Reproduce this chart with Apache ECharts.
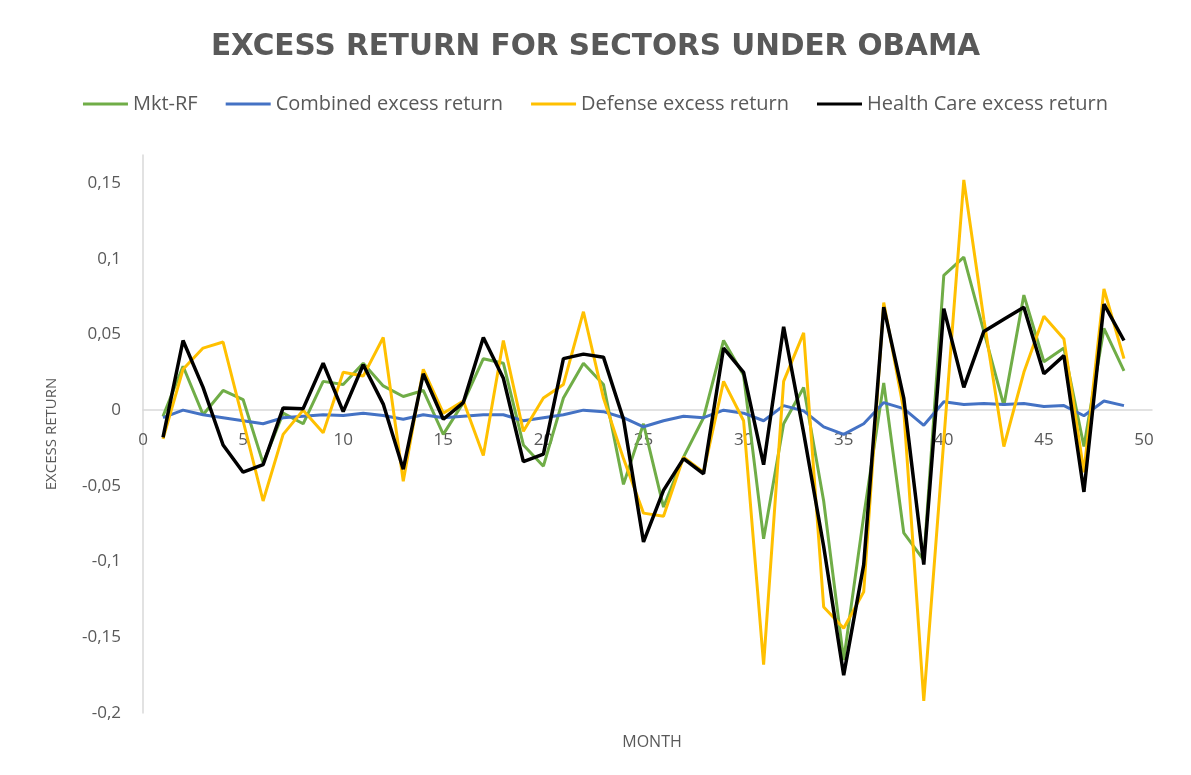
<!DOCTYPE html>
<html lang="en">
<head>
    <meta charset="UTF-8">
    <title>Excess return for sectors under Obama</title>
    <script src="https://cdn.jsdelivr.net/npm/echarts@6/dist/echarts.min.js"></script>
    <style>
        html, body { margin: 0; padding: 0; background: #fff; }
        #chart { width: 1191px; height: 775px; }
    </style>
</head>
<body>
<div id="chart"></div>
<script>
    // months 1..49
    let months = Array.from({length: 49}, (v, i) => i + 1);

    let mktRF = [-0.004, 0.029, -0.003, 0.013, 0.007, -0.035, -0.002, -0.009, 0.019, 0.017,
        0.031, 0.016, 0.009, 0.013, -0.016, 0.005, 0.034, 0.031, -0.023, -0.037,
        0.008, 0.031, 0.017, -0.049, -0.009, -0.064, -0.031, -0.005, 0.046, 0.023,
        -0.085, -0.009, 0.015, -0.06, -0.165, -0.07, 0.018, -0.081, -0.099, 0.089,
        0.101, 0.052, 0.003, 0.076, 0.032, 0.041, -0.024, 0.054, 0.026];

    let combined = [-0.005, 0, -0.003, -0.005, -0.007, -0.009, -0.005, -0.004, -0.003, -0.0035,
        -0.002, -0.0035, -0.006, -0.003, -0.005, -0.004, -0.003, -0.003, -0.007, -0.005,
        -0.003, 0, -0.001, -0.005, -0.011, -0.007, -0.004, -0.005, 0, -0.002,
        -0.007, 0.003, -0.0005, -0.011, -0.016, -0.009, 0.005, 0.001, -0.010, 0.0056,
        0.0037, 0.0044, 0.0037, 0.0044, 0.0024, 0.003, -0.0037, 0.006, 0.003];

    let defense = [-0.019, 0.027, 0.041, 0.045, -0.007, -0.060, -0.016, 0, -0.015, 0.025,
        0.0225, 0.048, -0.047, 0.027, -0.002, 0.006, -0.030, 0.046, -0.014, 0.008,
        0.017, 0.065, 0.008, -0.032, -0.068, -0.070, -0.031, -0.041, 0.019, -0.007,
        -0.168, 0.019, 0.051, -0.130, -0.144, -0.120, 0.071, 0, -0.192, -0.02,
        0.152, 0.06, -0.024, 0.025, 0.062, 0.047, -0.041, 0.080, 0.034];

    let healthCare = [-0.018, 0.046, 0.015, -0.023, -0.041, -0.036, 0.0015, 0.001, 0.031, -0.001,
        0.030, 0.004, -0.039, 0.024, -0.006, 0.005, 0.048, 0.021, -0.034, -0.029,
        0.034, 0.037, 0.035, -0.006, -0.087, -0.053, -0.032, -0.042, 0.041, 0.025,
        -0.036, 0.055, -0.015, -0.09, -0.175, -0.102, 0.068, 0.008, -0.102, 0.067,
        0.015, 0.052, 0.060, 0.068, 0.024, 0.036, -0.054, 0.070, 0.046];

    let seriesNames = ['Mkt-RF', 'Combined excess return', 'Defense excess return', 'Health Care excess return'];
    let seriesColors = ['#70AD47', '#4472C4', '#FFC000', '#000000'];
    let seriesValues = [mktRF, combined, defense, healthCare];

    let grey = '#595959';

    // y range of the plot; the x axis is shifted up to sit on y = 0
    let yMin = -0.2, yMax = 0.1685;
    let gridTop = 155, gridBottom = 62, chartH = 775;
    let plotH = chartH - gridTop - gridBottom;
    let zeroShift = plotH * (0 - yMin) / (yMax - yMin);

    let chart = echarts.init(document.getElementById('chart'));

    let option = {
        animation: false,
        backgroundColor: '#fff',
        title: [{
            text: 'EXCESS RETURN FOR SECTORS UNDER OBAMA',
            left: 'center',
            top: 27,
            textStyle: {
                fontFamily: 'DejaVu Sans',
                fontSize: 29.5,
                fontWeight: 'bold',
                color: grey
            }
        }, {
            text: 'MONTH',
            left: 647,
            textAlign: 'center',
            top: 729,
            textStyle: {
                fontFamily: 'Open Sans',
                fontSize: 16,
                fontWeight: 'normal',
                color: grey
            }
        }],
        legend: {
            top: 89,
            left: 'center',
            icon: 'rect',
            itemWidth: 45,
            itemHeight: 3,
            itemGap: 28,
            textStyle: {
                fontFamily: 'Open Sans',
                fontSize: 20,
                color: grey
            },
            data: seriesNames
        },
        grid: {
            left: 143,
            right: 39,
            top: gridTop,
            bottom: gridBottom,
            containLabel: false,
            outerBoundsMode: 'none'
        },
        xAxis: {
            type: 'value',
            min: 0,
            max: 50.4,
            interval: 5,
            offset: -zeroShift,
            axisLine: {onZero: false, lineStyle: {color: '#D9D9D9', width: 1.5}},
            axisTick: {show: false},
            splitLine: {show: false},
            axisLabel: {
                margin: 22,
                showMaxLabel: false,
                fontFamily: 'Open Sans',
                fontSize: 17,
                color: grey,
                formatter: function (v) {
                    return v % 5 === 0 ? String(v) : '';
                }
            }
        },
        yAxis: {
            type: 'value',
            min: yMin,
            max: yMax,
            interval: 0.05,
            name: 'EXCESS RETURN',
            nameLocation: 'middle',
            nameGap: 84,
            nameTextStyle: {
                fontFamily: 'Open Sans',
                fontSize: 15,
                color: grey
            },
            axisLine: {show: true, lineStyle: {color: '#D9D9D9', width: 1.5}},
            axisTick: {show: false},
            splitLine: {show: false},
            axisLabel: {
                margin: 22,
                showMaxLabel: false,
                fontFamily: 'Open Sans',
                fontSize: 17,
                color: grey,
                formatter: function (v) {
                    if (Math.abs(v) < 1e-9) return '0';
                    return String(+v.toFixed(2)).replace('.', ',');
                }
            }
        },
        series: seriesNames.map(function (name, k) {
            return {
                name: name,
                type: 'line',
                symbol: 'none',
                color: seriesColors[k],
                lineStyle: {width: k === 3 ? 3.5 : 3, color: seriesColors[k]},
                data: months.map(function (m, i) {
                    return [m, seriesValues[k][i]];
                })
            };
        })
    };

    chart.setOption(option);
</script>
</body>
</html>
